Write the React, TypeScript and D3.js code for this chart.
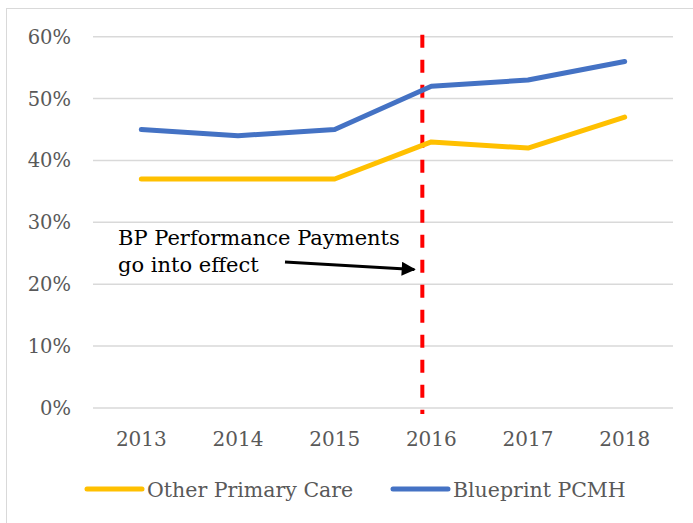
import { useEffect, useRef } from "react";
import * as d3 from "d3";

const years = ["2013", "2014", "2015", "2016", "2017", "2018"];
const otherPrimaryCare = [0.37, 0.37, 0.37, 0.43, 0.42, 0.47];
const blueprintPCMH = [0.45, 0.44, 0.45, 0.52, 0.53, 0.56];
const yTicks = [0, 0.1, 0.2, 0.3, 0.4, 0.5, 0.6];
const seriesNames = ["Other Primary Care", "Blueprint PCMH"];
const seriesColors = ["#FFC000", "#4472C4"];
const eventYear = "2016";
const noteLines = ["BP Performance Payments", "go into effect"];

const W = 693;
const H = 523;
const FONT = "'DejaVu Serif', serif";

export default function App() {
  const ref = useRef<SVGSVGElement>(null);

  useEffect(() => {
    const svg = d3.select(ref.current);
    svg.selectAll("*").remove();

    const x = d3.scaleBand<string>().domain(years).range([93, 673]);
    const cx = (d: string) => (x(d) as number) + x.bandwidth() / 2;
    const y = d3.scaleLinear().domain([0, 0.6]).range([408, 36.7]);

    // outer frame
    svg.append("rect")
      .attr("x", 6.5).attr("y", 8.5)
      .attr("width", W + 10).attr("height", H + 10)
      .attr("fill", "white").attr("stroke", "#d9d9d9").attr("stroke-width", 1);

    // gridlines
    svg.append("g").selectAll("line").data(yTicks).enter().append("line")
      .attr("x1", 93).attr("x2", 673)
      .attr("y1", d => y(d)).attr("y2", d => y(d))
      .attr("stroke", "#d9d9d9").attr("stroke-width", 1.5);

    // y labels
    svg.append("g").selectAll("text").data(yTicks).enter().append("text")
      .attr("x", 71).attr("y", d => y(d) + 7)
      .attr("text-anchor", "end")
      .attr("font-family", FONT).attr("font-size", 19.5)
      .attr("fill", "#595959")
      .text(d => d3.format(".0%")(d));

    // x labels
    svg.append("g").selectAll("text").data(years).enter().append("text")
      .attr("x", d => cx(d)).attr("y", 446)
      .attr("text-anchor", "middle")
      .attr("font-family", FONT).attr("font-size", 20)
      .attr("fill", "#595959")
      .text(d => d);

    // event marker
    const ex = cx(eventYear) - 9;
    svg.append("line")
      .attr("x1", ex).attr("x2", ex)
      .attr("y1", y(0.6) - 2).attr("y2", y(0) + 6)
      .attr("stroke", "#FF0000").attr("stroke-width", 4)
      .attr("stroke-dasharray", "13,12");

    // series
    const line = d3.line<number>()
      .x((_, i) => cx(years[i]))
      .y(d => y(d));
    [otherPrimaryCare, blueprintPCMH].forEach((vals, i) => {
      svg.append("path")
        .attr("d", line(vals))
        .attr("fill", "none")
        .attr("stroke", seriesColors[i])
        .attr("stroke-width", 5)
        .attr("stroke-linecap", "round")
        .attr("stroke-linejoin", "round");
    });

    // annotation
    const note = svg.append("text")
      .attr("font-family", FONT).attr("font-size", 21)
      .attr("fill", "#000");
    noteLines.forEach((t, i) => {
      note.append("tspan").attr("x", 118).attr("y", 245 + i * 27).text(t);
    });
    svg.append("defs").append("marker")
      .attr("id", "arrowhead")
      .attr("viewBox", "0 0 10 10")
      .attr("refX", 9).attr("refY", 5)
      .attr("markerWidth", 6).attr("markerHeight", 5)
      .attr("orient", "auto")
      .append("path").attr("d", "M0,0 L10,5 L0,10 z").attr("fill", "#000");
    svg.append("line")
      .attr("x1", 285).attr("y1", 262)
      .attr("x2", ex - 8).attr("y2", 269.5)
      .attr("stroke", "#000").attr("stroke-width", 2.8)
      .attr("marker-end", "url(#arrowhead)");

    // legend
    const legendX = [87, 393];
    seriesNames.forEach((name, i) => {
      const g = svg.append("g").attr("transform", `translate(${legendX[i]},489)`);
      g.append("line").attr("x1", 0).attr("x2", 55)
        .attr("stroke", seriesColors[i]).attr("stroke-width", 5)
        .attr("stroke-linecap", "round");
      g.append("text").attr("x", 60).attr("y", 8)
        .attr("font-family", FONT).attr("font-size", 20.5)
        .attr("fill", "#595959")
        .text(name);
    });
  }, []);

  return (
    <div style={{ position: "absolute", left: 0, top: 0 }}>
      <svg ref={ref} width={W} height={H} style={{ display: "block" }} />
    </div>
  );
}
